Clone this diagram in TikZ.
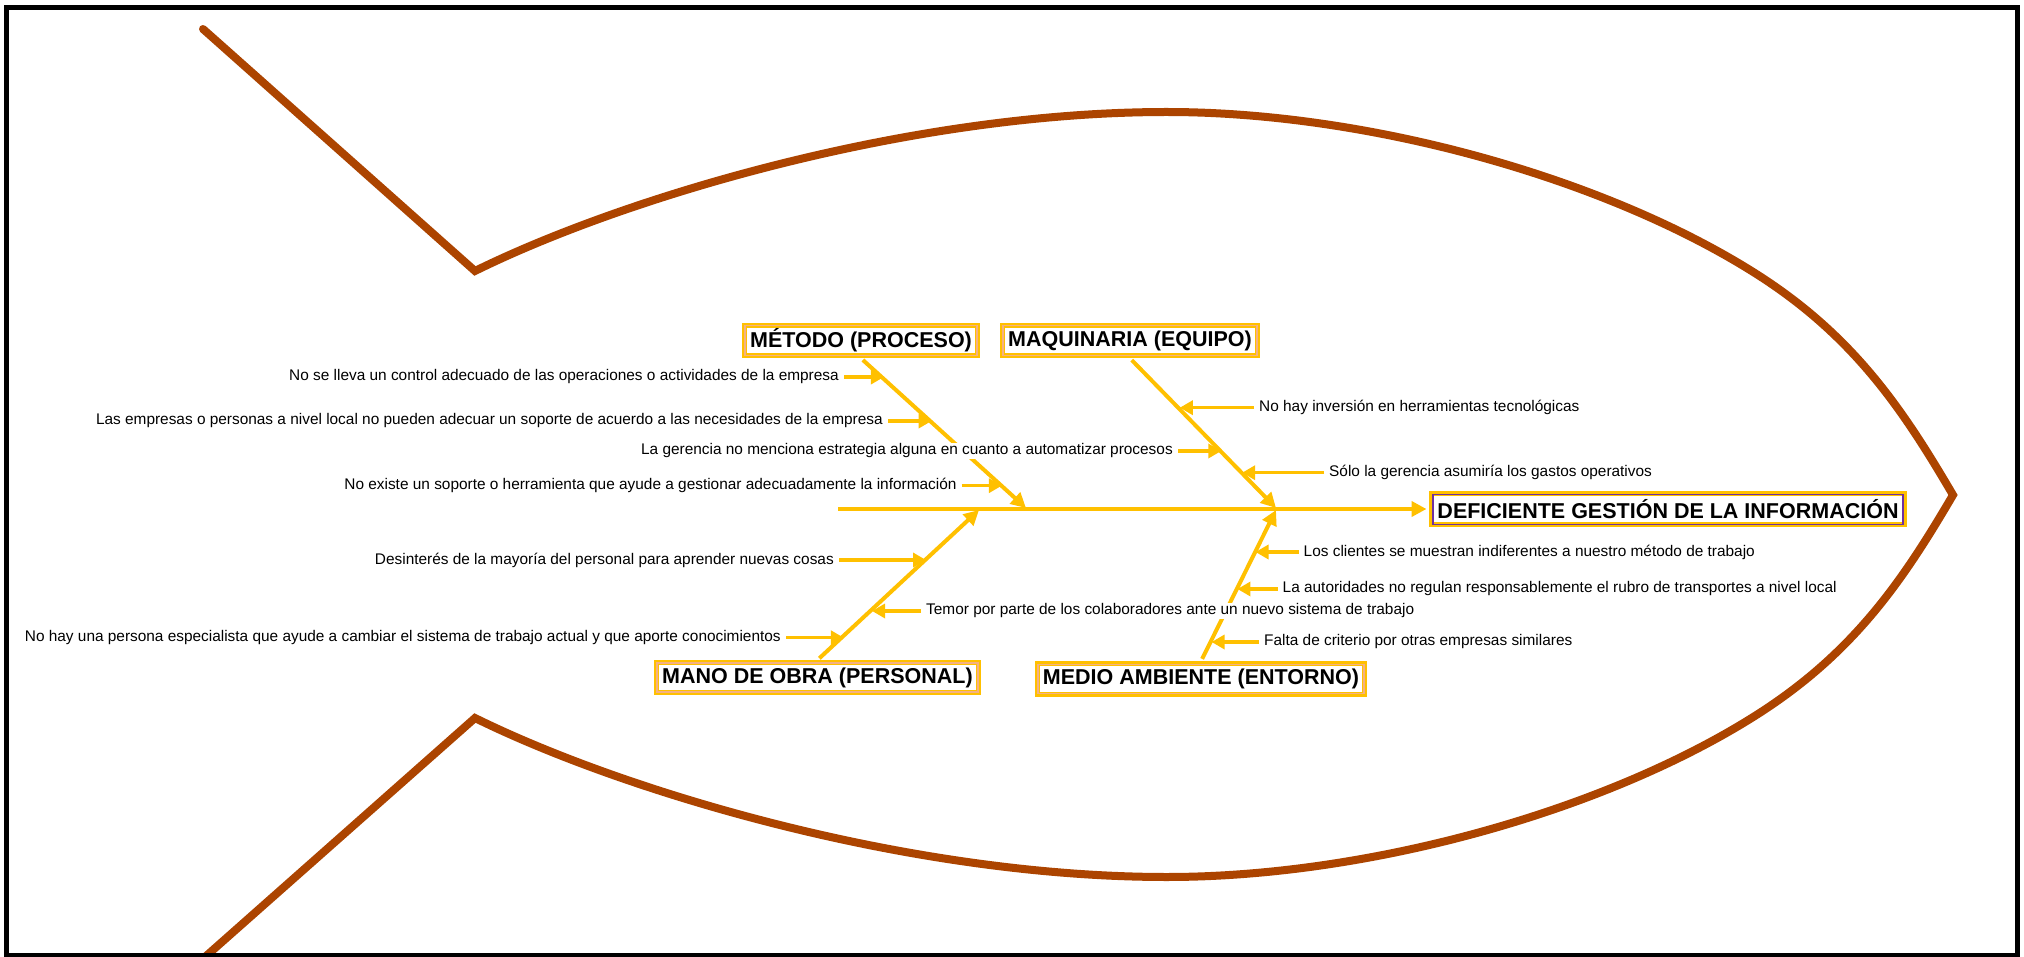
\documentclass[tikz,border=0pt]{standalone}
\usepackage{fontspec}
\setmainfont{Liberation Sans}
\usetikzlibrary{arrows.meta,calc}
\definecolor{gold}{RGB}{255,192,0}
\definecolor{fishbrown}{RGB}{172,68,0}
\definecolor{salmonline}{RGB}{244,177,131}
\definecolor{headpurple}{RGB}{112,48,160}
\begin{document}
\begin{tikzpicture}[x=1pt,y=-1pt,
  catbox/.style={draw=gold, line width=5pt, fill=white, inner sep=0pt,
    font=\fontsize{21.5}{24}\selectfont\bfseries},
  cause/.style={font=\fontsize{15.4}{18}\selectfont, fill=white, inner xsep=1pt, inner ysep=1pt},
  bone/.style={draw=gold, line width=4pt, -{Triangle[length=15pt,width=15pt]}},
  sub/.style={draw=gold, line width=3.5pt, -{Triangle[length=13pt,width=14pt]}, shorten <=4pt},
  fish/.style={draw=fishbrown, line width=8pt, line cap=round},
  frame/.style={draw=black, line width=5pt}
]
\useasboundingbox (0,0) rectangle (2024,957);
\fill[white] (0,0) rectangle (2024,957);

% fish outline
\draw[fish] (203,29) -- (475,271)
  .. controls (625,197) and (910,112) .. (1167,112)
  .. controls (1367,112) and (1600,177) .. (1750,270)
  .. controls (1852,333) and (1902,408) .. (1953,495)
  .. controls (1902,582) and (1852,656) .. (1750,719)
  .. controls (1600,812) and (1367,877) .. (1167,877)
  .. controls (910,877) and (625,792) .. (475,718)
  -- (205,957);

% category boxes and head
\node[catbox, minimum width=233pt, minimum height=30.6pt] (met) at (861,340.5) {MÉTODO (PROCESO)};
\node[catbox, minimum width=255pt, minimum height=30.6pt] (maq) at (1130,340.5) {MAQUINARIA (EQUIPO)};
\node[catbox, minimum width=322pt, minimum height=30pt] (man) at (817.5,677.5) {MANO DE OBRA (PERSONAL)};
\node[catbox, minimum width=327pt, minimum height=30.7pt] (med) at (1201,679) {MEDIO AMBIENTE (ENTORNO)};
\node[catbox, minimum width=473pt, minimum height=31pt] (head) at (1668,509) {DEFICIENTE GESTIÓN DE LA INFORMACIÓN};

\foreach \n in {met,maq,man,med}
  \draw[salmonline, line width=1.2pt] ([xshift=3pt,yshift=-3pt]\n.north west) rectangle ([xshift=-3pt,yshift=3pt]\n.south east);
\draw[headpurple, line width=1pt] ([xshift=3.5pt,yshift=-3pt]head.north west) rectangle ([xshift=-3.5pt,yshift=3pt]head.south east);
\draw[headpurple, line width=2.5pt] ([xshift=4pt,yshift=-3pt]head.north west) -- ([xshift=4pt,yshift=3pt]head.south west);
\draw[headpurple, line width=2.5pt] ([xshift=-4pt,yshift=-3pt]head.north east) -- ([xshift=-4pt,yshift=3pt]head.south east);

% spine and bones
\coordinate (tail) at (838,509);
\coordinate (sm) at (1026,508);
\coordinate (sq) at (1276,508);
\coordinate (sn) at (979,510);
\coordinate (se) at (1276,510);
\draw[bone, shorten >=2.5pt] (tail) -- (head.west);
\draw[bone, shorten <=2.5pt] (met.south) -- (sm);
\draw[bone, shorten <=2.5pt] (maq.south) -- (sq);
\draw[bone, shorten <=2.5pt] (man.north) -- (sn);
\draw[bone, shorten <=2.5pt] (med.north) -- (se);

\path (met.south) -- (sm) coordinate[pos=0.1393] (m1) coordinate[pos=0.4284] (m2) coordinate[pos=0.8535] (m4);
\path (maq.south) -- (sq) coordinate[pos=0.341] (q5) coordinate[pos=0.6255] (q3) coordinate[pos=0.768] (q6);
\path (man.north) -- (sn) coordinate[pos=0.1626] (n8) coordinate[pos=0.3377] (n9) coordinate[pos=0.6721] (n7);
\path (med.north) -- (se) coordinate[pos=0.1409] (e12) coordinate[pos=0.4858] (e11) coordinate[pos=0.7266] (e10);

% causes
\node[cause, anchor=east] (t1) at (840,377) {No se lleva un control adecuado de las operaciones o actividades de la empresa};
\node[cause, anchor=east] (t2) at (884,421) {Las empresas o personas a nivel local no pueden adecuar un soporte de acuerdo a las necesidades de la empresa};
\node[cause, anchor=east] (t3) at (1174,451) {La gerencia no menciona estrategia alguna en cuanto a automatizar procesos};
\node[cause, anchor=east] (t4) at (957.7,485.7) {No existe un soporte o herramienta que ayude a gestionar adecuadamente la información};
\node[cause, anchor=west] (t5) at (1258,407.7) {No hay inversión en herramientas tecnológicas};
\node[cause, anchor=west] (t6) at (1328,472.7) {Sólo la gerencia asumiría los gastos operativos};
\node[cause, anchor=east] (t7) at (835,560) {Desinterés de la mayoría del personal para aprender nuevas cosas};
\node[cause, anchor=east] (t8) at (782,637.7) {No hay una persona especialista que ayude a cambiar el sistema de trabajo actual y que aporte conocimientos};
\node[cause, anchor=west] (t9) at (925,611) {Temor por parte de los colaboradores ante un nuevo sistema de trabajo};
\node[cause, anchor=west] (t10) at (1302.5,552) {Los clientes se muestran indiferentes a nuestro método de trabajo};
\node[cause, anchor=west] (t11) at (1281.5,589) {La autoridades no regulan responsablemente el rubro de transportes a nivel local};
\node[cause, anchor=west] (t12) at (1263,642) {Falta de criterio por otras empresas similares};

\draw[sub] (t1.east) -- (t1.east -| m1);
\draw[sub] (t2.east) -- (t2.east -| m2);
\draw[sub] (t3.east) -- (t3.east -| q3);
\draw[sub] (t4.east) -- (t4.east -| m4);
\draw[sub] (t5.west) -- (t5.west -| q5);
\draw[sub] (t6.west) -- (t6.west -| q6);
\draw[sub] (t7.east) -- (t7.east -| n7);
\draw[sub] (t8.east) -- (t8.east -| n8);
\draw[sub] (t9.west) -- (t9.west -| n9);
\draw[sub] (t10.west) -- (t10.west -| e10);
\draw[sub] (t11.west) -- (t11.west -| e11);
\draw[sub] (t12.west) -- (t12.west -| e12);

% frame
\draw[frame] (6.5,7.5) rectangle (2017.5,955);
\end{tikzpicture}
\end{document}
